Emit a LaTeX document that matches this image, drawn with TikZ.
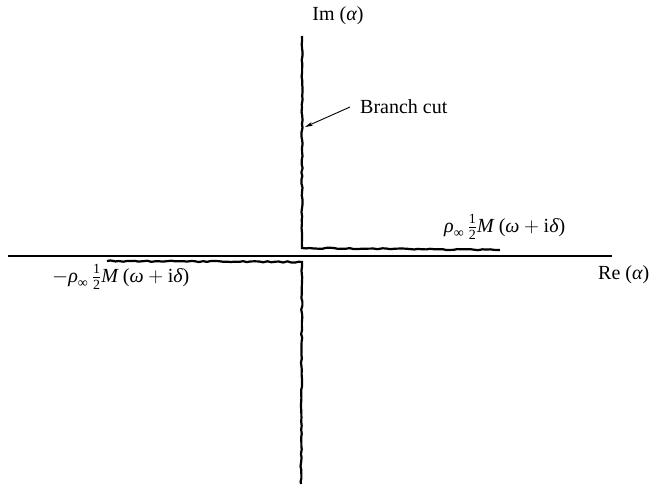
\documentclass[tikz,border=0pt]{standalone}
\usepackage{amsmath}
\usepackage{fontspec}
\setmainfont{Liberation Serif}
\usetikzlibrary{decorations.pathmorphing,arrows.meta}
\newcommand{\gr}[1]{\text{\itshape #1}}
\newcommand{\cutlabel}{$\gr{ρ}_{\text{∞}}\,\frac{\text{1}}{\text{2}}\gr{M}$ ($\gr{ω}+\text{i}\gr{δ}$)}
\begin{document}
\begin{tikzpicture}[x=1pt,y=-1pt,
  axis/.style={line width=1.1pt},
  cut/.style={line width=2.2pt,decorate,decoration={random steps,segment length=4pt,amplitude=0.6pt}},
  lbl/.style={font=\fontsize{20}{24}\selectfont,inner sep=0pt},
  pointer/.style={line width=0.9pt,-{Stealth[length=8pt,width=4pt]}}]
\pgfmathsetseed{7}
\useasboundingbox (0,0) rectangle (652,488);
\coordinate (xl) at (8,256);
\coordinate (xr) at (612,256);
\draw[axis] (xl) -- (xr);
% upper cut
\coordinate (ut) at (302,36);
\coordinate (uc) at (302,248);
\coordinate (ue) at (500,250);
\draw[cut] (ut) -- (uc) -- (ue);
% lower cut
\coordinate (ls) at (107,261);
\coordinate (lc) at (302,262);
\coordinate (lb) at (301,484);
\draw[cut] (ls) -- (lc) -- (lb);
% labels
\node[lbl] (im) at (338,16) {Im ($\gr{α}$)};
\node[lbl,anchor=west] (bc) at (360,107) {Branch cut};
\coordinate (bcs) at (350,107);
\coordinate (bctip) at (305,127);
\draw[pointer] (bcs) -- (bctip);
\node[lbl,anchor=west] (re) at (598,275) {Re ($\gr{α}$)};
\node[lbl,anchor=west] (pp) at (444,227) {\cutlabel};
\node[lbl,anchor=west] (pm) at (52,277) {$-$\cutlabel};
\end{tikzpicture}
\end{document}
